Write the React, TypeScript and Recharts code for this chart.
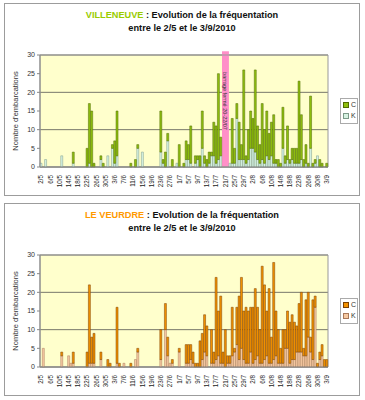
import { BarChart, Bar, XAxis, YAxis, CartesianGrid, ReferenceArea } from "recharts";

const FONT = "'Liberation Sans', Arial, sans-serif";

// jours du 2/5 au 3/9/2010 : [mois, premier jour, dernier jour]
const MONTHS: [number, number, number][] = [
  [5, 2, 31], [6, 1, 30], [7, 1, 31], [8, 1, 31], [9, 1, 3],
];
const DAYS = MONTHS.flatMap(([m, a, b]) =>
  Array.from({ length: b - a + 1 }, (_, i) => `${a + i}/${m}`)
);
const Y_TICKS = [0, 5, 10, 15, 20, 25, 30];

// Villeneuve
const VIL_C = [
  0, 0, 0, 0, 0, 0, 0, 0, 0, 0,
  0, 0, 0, 0, 3, 0, 0, 0, 0, 0,
  5, 16, 15, 1, 0, 0, 1, 1, 0, 0,
  0, 1, 6, 12, 0, 0, 0, 0, 0, 1,
  0, 2, 1, 0, 0, 0, 0, 0, 0, 0,
  0, 0, 11, 1, 4, 2, 0, 2, 0, 0,
  6, 0, 1, 5, 4, 10, 0, 2, 1, 3,
  10, 2, 2, 3, 1, 9, 10, 23, 5, 0,
  0, 0, 0, 12, 4, 4, 10, 4, 24, 2,
  8, 10, 8, 22, 9, 5, 15, 9, 12, 7,
  9, 13, 1, 2, 1, 11, 2, 9, 1, 3,
  4, 4, 22, 12, 2, 5, 1, 14, 1, 1,
  0, 2, 1, 0, 1,
];
const VIL_K = [
  1, 0, 2, 0, 0, 0, 0, 0, 0, 3,
  0, 0, 0, 0, 1, 0, 0, 0, 0, 0,
  0, 1, 0, 0, 0, 0, 2, 0, 0, 3,
  0, 5, 1, 3, 0, 0, 0, 0, 0, 0,
  0, 0, 5, 0, 4, 0, 0, 0, 0, 0,
  0, 0, 4, 1, 0, 7, 0, 0, 0, 1,
  0, 0, 0, 2, 2, 1, 0, 1, 2, 0,
  5, 1, 0, 1, 3, 3, 1, 2, 3, 0,
  0, 0, 1, 1, 1, 13, 2, 2, 2, 1,
  2, 5, 5, 4, 2, 1, 2, 1, 3, 2,
  3, 1, 1, 0, 0, 5, 1, 2, 1, 2,
  1, 1, 1, 2, 0, 1, 0, 5, 0, 1,
  3, 0, 0, 0, 0,
];

// Le Veurdre
const VEU_C = [
  0, 0, 0, 0, 0, 0, 0, 0, 0, 1,
  0, 0, 0, 0, 3, 0, 0, 0, 0, 0,
  4, 21, 7, 8, 0, 0, 2, 0, 0, 2,
  1, 0, 0, 15, 1, 0, 0, 0, 0, 1,
  0, 0, 1, 0, 0, 0, 0, 0, 0, 0,
  0, 0, 8, 0, 7, 5, 0, 1, 0, 0,
  1, 0, 0, 5, 5, 4, 3, 1, 1, 7,
  7, 10, 8, 0, 9, 3, 22, 12, 18, 3,
  10, 2, 2, 13, 1, 10, 17, 19, 13, 15,
  14, 12, 15, 19, 13, 9, 26, 20, 12, 20,
  7, 26, 12, 9, 4, 9, 5, 10, 11, 12,
  10, 7, 13, 16, 2, 15, 12, 4, 16, 3,
  1, 2, 3, 2, 2,
];
const VEU_K = [
  0, 5, 0, 0, 0, 0, 0, 0, 0, 3,
  0, 0, 3, 1, 1, 0, 0, 0, 0, 0,
  0, 1, 1, 1, 0, 0, 2, 0, 0, 0,
  0, 0, 0, 1, 0, 0, 1, 0, 0, 0,
  0, 2, 4, 0, 0, 0, 0, 0, 0, 0,
  0, 0, 2, 0, 10, 3, 1, 1, 0, 0,
  4, 0, 0, 1, 1, 2, 1, 0, 0, 0,
  2, 4, 3, 0, 1, 1, 2, 3, 1, 1,
  0, 1, 1, 3, 4, 6, 2, 5, 2, 1,
  1, 4, 1, 2, 3, 1, 1, 2, 3, 1,
  1, 2, 3, 1, 1, 1, 5, 5, 1, 2,
  2, 4, 4, 4, 3, 3, 8, 4, 2, 16,
  0, 2, 3, 0, 0,
];

function DayTick({ x, y, payload }: any) {
  return (
    <text
      x={x}
      y={y}
      transform={`rotate(-90 ${x} ${y})`}
      textAnchor="end"
      dy={2.2}
      fontSize={6.3}
      fill="#222"
      fontFamily={FONT}
    >
      {payload.value}
    </text>
  );
}

function ClosedLabel({ viewBox }: any) {
  if (!viewBox) return null;
  const cx = viewBox.x + viewBox.width / 2;
  const cy = viewBox.y + viewBox.height * 0.43;
  return (
    <text
      x={cx}
      y={cy}
      transform={`rotate(90 ${cx} ${cy})`}
      textAnchor="middle"
      dy={2}
      fontSize={5.5}
      fill="#333"
      fontFamily={FONT}
    >
      barrage fermé 20-22/07
    </text>
  );
}

type PanelProps = {
  top: number;
  name: string;
  nameColor: string;
  c: number[];
  k: number[];
  cFill: string;
  cStroke: string;
  kFill: string;
  kStroke: string;
  closed?: boolean;
};

function Panel({ top, name, nameColor, c, k, cFill, cStroke, kFill, kStroke, closed }: PanelProps) {
  const data = DAYS.map((day, i) => ({ day, C: c[i], K: k[i] }));
  return (
    <div style={{ position: "absolute", left: 0, top, width: 365, height: 200 }}>
      <div
        style={{
          position: "absolute", left: 4, top: 3, width: 354, height: 191,
          border: "1px solid #9c9c9c", background: "#fff",
        }}
      />
      <div
        style={{
          position: "absolute", left: 4, top: 9, width: 356, textAlign: "center",
          fontFamily: FONT, fontSize: 9.2, fontWeight: "bold", lineHeight: "13px", color: "#111",
        }}
      >
        <span style={{ color: nameColor }}>{name}</span> : Evolution de la fréquentation
        <br />
        entre le 2/5 et le 3/9/2010
      </div>
      <div
        style={{
          position: "absolute", left: 15, top: 111, transform: "translate(-50%, -50%) rotate(-90deg)",
          whiteSpace: "nowrap", fontFamily: FONT, fontSize: 7.5, color: "#333",
        }}
      >
        Nombre d'embarcations
      </div>
      <div style={{ position: "absolute", left: 0, top: 0 }}>
        <BarChart
          width={365}
          height={200}
          data={data}
          barCategoryGap={0}
          margin={{ top: 55, right: 37, bottom: 13, left: 10 }}
        >
          <CartesianGrid vertical={false} stroke="#77776a" fill="#ffffcc" fillOpacity={1} />
          {closed && (
            <ReferenceArea
              x1="20/7"
              x2="22/7"
              y1={0}
              y2={31}
              ifOverflow="visible"
              fill="#ff8fc8"
              fillOpacity={1}
              stroke="none"
              label={<ClosedLabel />}
            />
          )}
          <XAxis
            dataKey="day"
            interval={3}
            tickLine={false}
            axisLine={{ stroke: "#888" }}
            tick={<DayTick />}
            height={20}
            tickMargin={2}
          />
          <YAxis
            width={30}
            domain={[0, 30]}
            ticks={Y_TICKS}
            tickSize={3}
            tickMargin={2}
            axisLine={{ stroke: "#888" }}
            tickLine={{ stroke: "#888" }}
            tick={{ fontSize: 7, fill: "#333", fontFamily: FONT }}
          />
          <ReferenceArea x1="2/5" x2="3/9" y1={0} y2={30} fill="none" stroke="#999" ifOverflow="visible" />
          <Bar dataKey="K" stackId="s" fill={kFill} stroke={kStroke} strokeWidth={0.5} isAnimationActive={false} />
          <Bar dataKey="C" stackId="s" fill={cFill} stroke={cStroke} strokeWidth={0.5} isAnimationActive={false} />
        </BarChart>
      </div>
      <div
        style={{
          position: "absolute", left: 340, top: 98, width: 16, height: 24,
          border: "1px solid #aaa", background: "#fff", fontFamily: FONT, fontSize: 7, color: "#333",
        }}
      >
        {[["C", cFill, cStroke], ["K", kFill, kStroke]].map(([n, f, s]) => (
          <div key={n} style={{ display: "flex", alignItems: "center", height: 11, paddingLeft: 2 }}>
            <span style={{ width: 4, height: 4, background: f, border: `0.5px solid ${s}`, marginRight: 2 }} />
            {n}
          </div>
        ))}
      </div>
    </div>
  );
}

export default function App() {
  return (
    <div style={{ position: "absolute", left: 0, top: 0, width: 365, height: 400, background: "#fff" }}>
      <Panel
        top={0}
        name="VILLENEUVE"
        nameColor="#99cc00"
        c={VIL_C}
        k={VIL_K}
        cFill="#8fbf0f"
        cStroke="#4f6a00"
        kFill="#d6f2e2"
        kStroke="#7d9a8a"
        closed
      />
      <Panel
        top={200}
        name="LE VEURDRE"
        nameColor="#ff9900"
        c={VEU_C}
        k={VEU_K}
        cFill="#f39200"
        cStroke="#7a3f00"
        kFill="#f6c9a2"
        kStroke="#a8785a"
      />
    </div>
  );
}
